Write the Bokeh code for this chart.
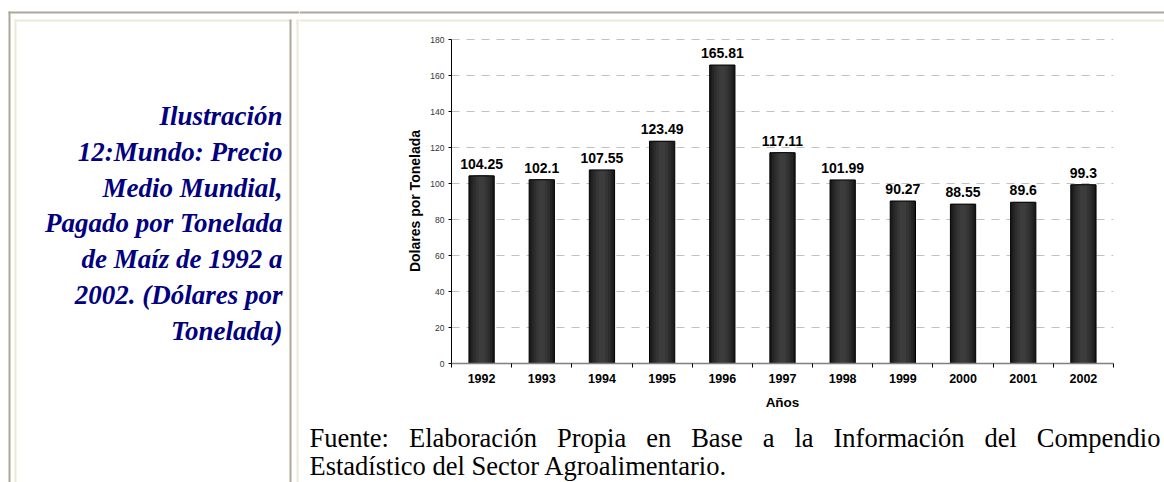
from bokeh.plotting import figure
from bokeh.layouts import row, column
from bokeh.models import Range1d, FixedTicker, ColumnDataSource
from bokeh.core.properties import value
from bokeh.embed import file_html
from bokeh.resources import INLINE

# ---------------- data ----------------
years = ["1992", "1993", "1994", "1995", "1996", "1997", "1998", "1999", "2000", "2001", "2002"]
prices = [104.25, 102.1, 107.55, 123.49, 165.81, 117.11, 101.99, 90.27, 88.55, 89.6, 99.3]
price_labels = ["104.25", "102.1", "107.55", "123.49", "165.81", "117.11", "101.99", "90.27", "88.55", "89.6", "99.3"]
y_ticks = [0, 20, 40, 60, 80, 100, 120, 140, 160, 180]
x_label = "Años"
y_label = "Dolares por Tonelada"
title_lines = ["Ilustración", "12:Mundo: Precio", "Medio Mundial,", "Pagado por Tonelada",
               "de Maíz de 1992 a", "2002. (Dólares por", "Tonelada)"]
caption_line1 = "Fuente: Elaboración Propia en Base a la Información del Compendio"
caption_line2 = "Estadístico del Sector Agroalimentario."

GRAY = "#ACA899"
LIGHT = "#ECE9D8"
SANS = "Liberation Sans"
SERIF = "Liberation Serif"
PAGE_W, PAGE_H = 1164, 482


def canvas(w, h):
    p = figure(width=w, height=h, x_range=Range1d(0, w), y_range=Range1d(h, 0),
               toolbar_location=None, output_backend="svg",
               x_axis_location=None, y_axis_location=None, min_border=0)
    p.grid.visible = False
    p.outline_line_color = None
    p.background_fill_color = "white"
    p.border_fill_color = "white"
    return p


def band(p, l, r, t, b, c):
    p.quad(left=l, right=r, top=t, bottom=b, fill_color=c, line_color=None)


# ---------------- left cell ----------------
LW = 299
left = canvas(LW, PAGE_H)
band(left, 8, 10, 11, PAGE_H, GRAY)
band(left, 8, LW, 11, 13, GRAY)
band(left, 14, 291, 19, 21, LIGHT)
band(left, 14, 16, 19, PAGE_H, LIGHT)
band(left, 289, 291, 19, PAGE_H, GRAY)
band(left, 296, LW, 19, 21, LIGHT)
band(left, 296, 298, 19, PAGE_H, LIGHT)

n = len(title_lines)
left.text(x=[282] * n, y=[115.5 + i * 35.8 for i in range(n)], text=title_lines,
          text_font=value(SERIF), text_font_style="bold italic", text_font_size="27px",
          text_color="#000080", text_align="right", text_baseline="alphabetic")

# ---------------- right cell top strip ----------------
RW = PAGE_W - LW
STRIP_H = 28
strip = canvas(RW, STRIP_H)
band(strip, 0, RW, 11, 13, GRAY)
band(strip, 0, RW, 19, 21, LIGHT)

# ---------------- chart ----------------
CHART_H = 387
PX_PER_UNIT = 1.8
chart = figure(width=RW, height=CHART_H, x_range=Range1d(-0.5, 10.5),
               y_range=Range1d(0, 180 + 1 / PX_PER_UNIT),
               toolbar_location=None, output_backend="svg",
               min_border_left=152, min_border_right=51, min_border_top=10, min_border_bottom=52)
chart.outline_line_color = None
chart.background_fill_color = "white"
chart.border_fill_color = "white"
chart.xgrid.visible = False
chart.ygrid.grid_line_color = "#c0c0c0"
chart.ygrid.grid_line_dash = "8 7"
chart.ygrid.grid_line_width = 1

src = ColumnDataSource(dict(x=list(range(len(years))), top=prices, label=price_labels))
for w, c in [(0.42, "#1a1a1a"), (0.35, "#242424"), (0.28, "#2d2d2d"), (0.2, "#353535"), (0.11, "#3c3c3c")]:
    chart.vbar(x="x", top="top", bottom=0, width=w, source=src, fill_color=c, line_color=None)
chart.vbar(x="x", top="top", bottom=0, width=0.42, source=src, fill_color=None,
           line_color="#000000", line_width=1)
chart.text(x="x", y="top", text="label", source=src, text_font=value(SANS), text_font_style="bold",
           text_font_size="14px", text_color="black", text_align="center",
           text_baseline="alphabetic", y_offset=-12)

xa = chart.xaxis[0]
xa.ticker = FixedTicker(ticks=list(range(len(years))), minor_ticks=[i - 0.5 for i in range(len(years) + 1)])
xa.major_label_overrides = {i: yr for i, yr in enumerate(years)}
xa.major_tick_line_color = None
xa.major_tick_out = 0
xa.major_tick_in = 0
xa.minor_tick_line_color = "black"
xa.minor_tick_out = 4
xa.minor_tick_in = 0
xa.axis_line_color = "#808080"
xa.axis_line_width = 1.5
xa.major_label_text_font = SANS
xa.major_label_text_font_style = "bold"
xa.major_label_text_font_size = "12.5px"
xa.major_label_text_color = "black"
xa.major_label_standoff = 6
xa.axis_label = x_label
xa.axis_label_text_font = SANS
xa.axis_label_text_font_style = "bold"
xa.axis_label_text_font_size = "13.5px"
xa.axis_label_text_color = "black"
xa.axis_label_standoff = 9

ya = chart.yaxis[0]
ya.ticker = FixedTicker(ticks=y_ticks, minor_ticks=[])
ya.bounds = (0, 180)
ya.major_tick_out = 3
ya.major_tick_in = 0
ya.major_tick_line_color = "black"
ya.minor_tick_line_color = None
ya.axis_line_color = "black"
ya.major_label_text_font = SANS
ya.major_label_text_font_size = "8.5px"
ya.major_label_text_color = "#333333"
ya.major_label_standoff = 4
ya.axis_label = y_label
ya.axis_label_text_font = SANS
ya.axis_label_text_font_style = "bold"
ya.axis_label_text_font_size = "14px"
ya.axis_label_text_color = "black"
ya.axis_label_standoff = 4

# ---------------- caption ----------------
CAP_H = PAGE_H - STRIP_H - CHART_H
cap = canvas(RW, CAP_H)
TIMES_W = {"F": 556, "u": 500, "e": 444, "n": 500, "t": 278, ":": 278, "E": 611, "l": 278, "a": 444,
           "b": 500, "o": 500, "r": 333, "c": 444, "i": 278, "ó": 500, "P": 556, "p": 500, "B": 667,
           "s": 389, "I": 333, "f": 333, "m": 778, "d": 500, "C": 667}
FS = 26.5
words = caption_line1.split(" ")
widths = [sum(TIMES_W.get(ch, 500) for ch in w) * FS / 1000 for w in words]
x0, x1 = 10, 861
gap = (x1 - x0 - sum(widths)) / (len(words) - 1)
xs = []
cur = x0
for w in widths:
    xs.append(cur)
    cur += w + gap
cap.text(x=xs, y=[22] * len(words), text=words, text_font=value(SERIF), text_font_size=f"{FS}px",
         text_color="black", text_align="left", text_baseline="alphabetic")
cap.text(x=[x0], y=[50.5], text=[caption_line2], text_font=value(SERIF), text_font_size=f"{FS}px",
         text_color="black", text_align="left", text_baseline="alphabetic")

right = column(column(strip), column(chart), column(cap), spacing=0)
page = row(left, right, spacing=0)
open("out.html", "w").write(file_html(page, INLINE))
